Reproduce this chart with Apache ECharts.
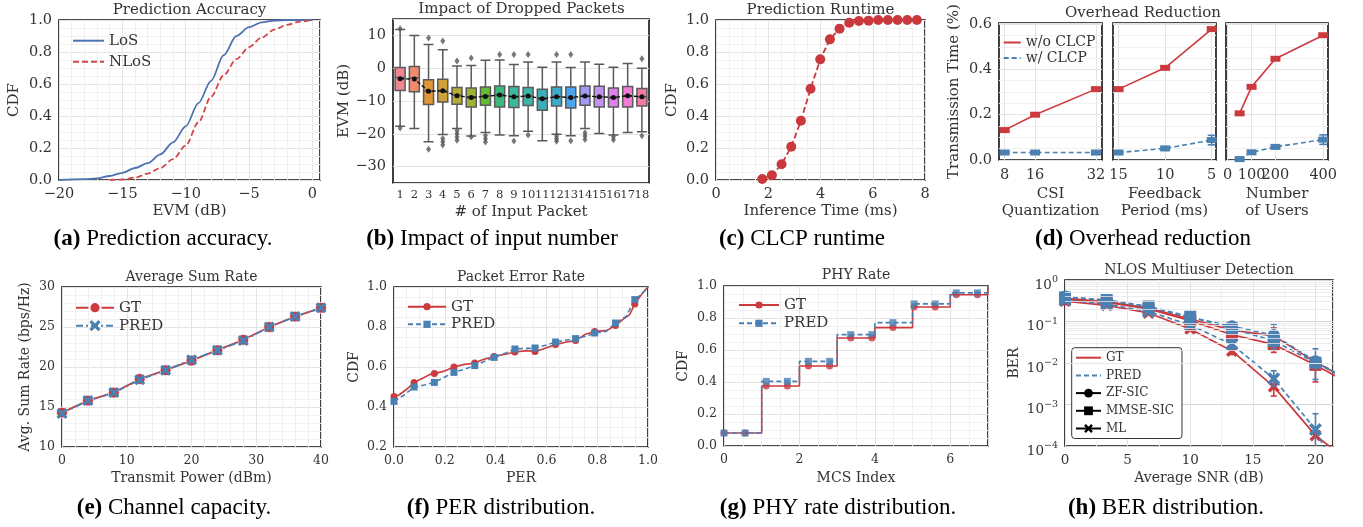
<!DOCTYPE html>
<html><head><meta charset="utf-8">
<script src="https://cdn.jsdelivr.net/npm/echarts@6/dist/echarts.min.js"></script>
<style>html,body{margin:0;padding:0;background:#fff}#c{width:1363px;height:527px}</style>
</head><body><div id="c"></div>
<script>
// ---------------- DATA ----------------
// (a) Prediction accuracy
const aLosX  = [-20,-18,-17,-16,-15,-14,-13,-12,-11,-10,-9,-8,-7,-6,-5,-4,-3,-2,-1,0];
const aLosY  = [0,0.005,0.01,0.025,0.045,0.075,0.105,0.16,0.235,0.335,0.48,0.62,0.78,0.90,0.955,0.985,0.997,1,1,1];
const aNlosX = [-16,-15,-14,-13,-12,-11,-10,-9,-8,-7,-6,-5,-4,-3,-2,-1,0];
const aNlosY = [0,0.003,0.015,0.04,0.075,0.13,0.215,0.36,0.52,0.655,0.755,0.83,0.89,0.94,0.97,0.99,1];
// (b) Impact of dropped packets: [min, Q1, median, Q3, max]
const bCats = ['1','2','3','4','5','6','7','8','9','10','11','12','13','14','15','16','17','18'];
const bBoxes = [
 [-17.7,-6.8,-2.8,0.2,11.8],[-18.4,-7.2,-2.9,0.5,10.0],[-22.4,-11.1,-7.0,-3.5,7.2],
 [-20.2,-10.3,-6.8,-3.4,5.6],[-18.4,-11.0,-8.2,-5.9,0.7],[-20.7,-11.8,-9.0,-6.0,0.8],
 [-19.6,-11.3,-8.4,-5.7,2.4],[-20.4,-11.8,-8.0,-5.4,2.5],[-20.6,-12.0,-8.7,-5.6,1.1],
 [-19.2,-11.4,-8.5,-5.9,1.9],[-22.1,-12.8,-9.5,-6.4,0.3],[-20.1,-11.5,-8.7,-5.7,1.9],
 [-20.6,-12.1,-9.0,-5.7,0.2],[-18.4,-11.3,-8.5,-5.4,1.9],[-19.9,-11.8,-8.7,-5.5,1.2],
 [-20.4,-11.8,-9.0,-6.0,0.3],[-19.6,-11.8,-8.4,-5.6,1.4],[-19.4,-11.5,-8.7,-6.2,0.0]];
const bMeans = [-3.2,-3.3,-7.0,-6.9,-8.4,-8.9,-8.6,-8.2,-8.7,-8.5,-9.3,-8.7,-8.9,-8.5,-8.7,-8.9,-8.4,-8.7];
const bFliers = [[12.0,-18.2],[],[9.2,-24.7],[8.3,-21.4,-22.4,-23.4],[2.2,-19.0,-20.0,-21.0,-22.0],
 [3.1,-20.9],[-20.5,-21.5,-22.5],[4.2],[4.2,-22.2],[4.2,-20.4],[],[4.2,-20.7,-21.5,-22.3],
 [4.2,-22.1],[-19.7,-20.7,-21.7],[],[-20.9,-21.8],[],[2.9,-20.6]];
const bColors = ['#f08690','#f08a6c','#e29534','#cfa136','#b6ac36','#9db437','#62bd35','#3cba7e','#3bb89d',
 '#3bb5a8','#3cafba','#3babcd','#4aa5ee','#9f9bf4','#c391ef','#e07fee','#f47bd6','#f27aa6'];
// (c) Prediction runtime
const cX = [1.77,2.14,2.51,2.88,3.25,3.62,3.99,4.36,4.73,5.10,5.47,5.84,6.21,6.58,6.95,7.32,7.69];
const cY = [0.006,0.03,0.098,0.208,0.37,0.57,0.754,0.879,0.946,0.983,0.994,0.996,1,1,1,1,1];
// (d) Overhead reduction
const d1X = [8,16,32],        d1Wo = [0.132,0.2,0.313],         d1W = [0.033,0.033,0.033],       d1Err = [0.004,0.004,0.004];
const d2X = [15,10,5],        d2Wo = [0.313,0.407,0.578],       d2W = [0.033,0.051,0.088],       d2Err = [0.004,0.008,0.021];
const d3X = [50,100,200,400], d3Wo = [0.206,0.323,0.447,0.551], d3W = [0.004,0.034,0.058,0.09], d3Err = [0.003,0.006,0.008,0.021];
const d1Ticks = [8,16,32], d2Ticks = [5,10,15], d3Ticks = [0,100,200,400];
// (e) Average sum rate
const eX    = [0,4,8,12,16,20,24,28,32,36,40];
const eGT   = [14.3,15.8,16.8,18.5,19.6,20.8,22.1,23.4,25.0,26.3,27.4];
const ePRED = [14.2,15.8,16.8,18.4,19.6,20.9,22.1,23.3,25.0,26.3,27.4];
// (f) Packet error rate CDF
const fGtX  = [0,0.02,0.056,0.079,0.115,0.14,0.159,0.194,0.213,0.236,0.273,0.318,0.351,0.394,0.443,0.476,0.522,0.555,0.587,0.636,0.679,0.715,0.751,0.79,0.836,0.872,0.90,0.928,0.948,0.974,1.0];
const fGtY  = [0.453,0.46,0.495,0.523,0.545,0.562,0.567,0.578,0.587,0.6,0.612,0.62,0.637,0.653,0.665,0.675,0.682,0.678,0.69,0.712,0.725,0.732,0.762,0.778,0.782,0.807,0.837,0.862,0.915,0.962,1.0];
const fPrX  = [0,0.04,0.079,0.12,0.159,0.2,0.236,0.28,0.318,0.36,0.394,0.44,0.476,0.52,0.555,0.6,0.636,0.68,0.715,0.76,0.79,0.836,0.872,0.914,0.948,0.975,1.0];
const fPrY  = [0.428,0.46,0.5,0.51,0.523,0.55,0.573,0.59,0.607,0.63,0.648,0.67,0.69,0.693,0.695,0.71,0.725,0.735,0.742,0.755,0.77,0.778,0.82,0.853,0.937,0.965,1.0];
const fMarkX = [0,0.079,0.159,0.236,0.318,0.394,0.476,0.555,0.636,0.715,0.79,0.872,0.948];
// (g) PHY rate CDF (step)
const gX     = [0,1,2,3,4,5,6,7];
const gGT    = [0.081,0.375,0.5,0.675,0.74,0.869,0.945,1.0];
const gPRED  = [0.081,0.404,0.529,0.696,0.771,0.888,0.957,1.0];
const gMarkX = [0,0.56,1.12,1.68,2.24,2.8,3.36,3.92,4.48,5.04,5.6,6.16,6.72];
// (h) NLOS multiuser detection BER
const hX      = [0,3.33,6.67,10,13.33,16.67,20,23.33];
const hGtZF   = [0.36,0.30,0.21,0.115,0.062,0.045,0.0105,0.003];
const hGtMMSE = [0.34,0.29,0.20,0.105,0.048,0.028,0.009,0.0025];
const hGtML   = [0.31,0.245,0.16,0.066,0.0195,0.0027,0.00018,0.00003];
const hPrZF   = [0.40,0.32,0.225,0.125,0.077,0.047,0.011,0.003];
const hPrMMSE = [0.38,0.33,0.23,0.13,0.068,0.034,0.0102,0.003];
const hPrML   = [0.33,0.26,0.175,0.082,0.028,0.0042,0.00025,0.000002];
const hErrGt  = [[13.33,0.016,0.024],[13.33,0.044,0.07],[16.67,0.0016,0.004],[16.67,0.018,0.07],[20,0.0035,0.014]];
const hErrPr  = [[13.33,0.022,0.036],[13.33,0.055,0.09],[16.67,0.0028,0.0065],[16.67,0.022,0.085],[20,0.004,0.022],[20,0.00005,0.0006]];
const hMinor  = [2,3,4,5,6,7,8,9];

// ---------------- HELPERS ----------------
const SERIF = "'DejaVu Serif', serif";
const CAPF = "'Liberation Serif', serif";
const RED = '#cc3a3e', BLUE = '#4a80b2', TXT = '#333';
const XPATH = 'path://M2,0L5,3L8,0L10,2L7,5L10,8L8,10L5,7L2,10L0,8L3,5L0,2Z';
const zip = (xs, ys) => xs.map((x, i) => [x, ys[i]]);
const near = (v, s) => Math.abs(v / s - Math.round(v / s)) < 1e-6;
const num = (v, d) => (v < -1e-9 ? '\u2212' : '') + Math.abs(v).toFixed(d);
const tf = (s, d) => v => near(v, s) ? num(v, d) : '';
const stepAt = (xs, ys, x) => { let k = 0; xs.forEach((v, i) => { if (v <= x + 1e-9) k = i; }); return ys[k]; };

const grids = [
  {left:59,  top:20,  width:261, height:160}, // a
  {left:393, top:19,  width:256, height:164}, // b
  {left:716, top:20,  width:209, height:160}, // c
  {left:999, top:23,  width:103, height:137}, // d1
  {left:1113,top:23,  width:103, height:137}, // d2
  {left:1226,top:23,  width:102, height:137}, // d3
  {left:62,  top:287, width:259, height:160}, // e
  {left:394, top:287, width:254, height:160}, // f
  {left:724, top:286, width:264, height:160}, // g
  {left:1065,top:280, width:268, height:166}  // h
].map(g => Object.assign(g, {show:true, borderColor:'#111', borderWidth:1.6, backgroundColor:'#fff', containLabel:false}));

function mkAxis(gi, p) {
  const ax = {
    type: p.type || 'value', gridIndex: gi,
    axisLine: {show:false}, axisTick: {show:false},
    splitLine: {show: p.split !== false, lineStyle: {color:'#e3e3e3', width:1}},
    axisLabel: {show: p.labels !== false, fontFamily:SERIF, fontSize:p.fs || 14.5, color:TXT, margin:p.margin || 7},
    name: p.name || '', nameLocation:'middle', nameGap: p.nameGap || 25,
    nameTextStyle: {fontFamily:SERIF, fontSize:p.nameFs || 15, color:TXT}
  };
  if (p.min != null) ax.min = p.min;
  if (p.max != null) ax.max = p.max;
  if (p.interval != null) ax.interval = p.interval;
  if (p.splitNumber != null) ax.splitNumber = p.splitNumber;
  if (p.fmt) ax.axisLabel.formatter = p.fmt;
  if (p.labelInterval != null) ax.axisLabel.interval = p.labelInterval;
  if (p.nameLH) ax.nameTextStyle.lineHeight = p.nameLH;
  if (p.minor) { ax.minorTick = {show:false, splitNumber:p.minor}; ax.minorSplitLine = {show:true, lineStyle:{color:'#f1f1f1', width:1}}; }
  if (p.custom) { ax.axisTick.customValues = p.custom; ax.axisLabel.customValues = p.custom; }
  if (p.extra) Object.assign(ax, p.extra);
  return ax;
}

const xAxes = [
  mkAxis(0, {min:-20, max:0.6, interval:5, fmt:tf(5,0), name:'EVM (dB)', nameGap:24, minor:5}),
  mkAxis(1, {type:'category', split:false, fs:11.5, margin:6, labelInterval:0, name:'# of Input Packet', nameGap:22,
             extra:{data:bCats, boundaryGap:true}}),
  mkAxis(2, {min:0, max:8, interval:2, fmt:tf(2,0), name:'Inference Time (ms)', nameGap:24, minor:4}),
  mkAxis(3, {min:6.5, max:33.6, custom:d1Ticks, margin:8, name:'CSI\nQuantization', nameGap:26, nameLH:17}),
  mkAxis(4, {min:4.54, max:15.6, custom:d2Ticks, margin:8, name:'Feedback\nPeriod (ms)', nameGap:26, nameLH:17, extra:{inverse:true}}),
  mkAxis(5, {min:-7, max:420, custom:d3Ticks, margin:8, name:'Number\nof Users', nameGap:26, nameLH:17}),
  mkAxis(6, {min:0, max:40, interval:10, fmt:tf(10,0), fs:12.5, name:'Transmit Power (dBm)', nameFs:14, nameGap:24, minor:5}),
  mkAxis(7, {min:0, max:1, interval:0.2, fmt:tf(0.2,1), fs:12.5, name:'PER', nameFs:14, nameGap:24, minor:4}),
  mkAxis(8, {min:0, max:7, interval:2, fmt:tf(2,0), fs:12.5, name:'MCS Index', nameFs:14, nameGap:25, minor:4}),
  mkAxis(9, {min:0, max:21.4, interval:5, fmt:tf(5,0), fs:13.5, name:'Average SNR (dB)', nameFs:14, nameGap:25, minor:2})
];
const yAxes = [
  mkAxis(0, {min:0, max:1, interval:0.2, fmt:tf(0.2,1), name:'CDF', nameGap:37, minor:4}),
  mkAxis(1, {min:-35, max:15, splitNumber:5, fmt:tf(10,0), name:'EVM (dB)', nameGap:40}),
  mkAxis(2, {min:0, max:1, interval:0.2, fmt:tf(0.2,1), name:'CDF', nameGap:36, minor:4}),
  mkAxis(3, {min:0, max:0.605, interval:0.2, fmt:tf(0.2,1), name:'Transmission Time (%)', nameGap:37, minor:4}),
  mkAxis(4, {min:0, max:0.605, interval:0.2, labels:false, minor:4}),
  mkAxis(5, {min:0, max:0.605, interval:0.2, labels:false, minor:4}),
  mkAxis(6, {min:10, max:30, interval:5, fmt:tf(5,0), fs:12.5, name:'Avg. Sum Rate (bps/Hz)', nameFs:14, nameGap:30, minor:5}),
  mkAxis(7, {min:0.2, max:1, interval:0.2, fmt:tf(0.2,1), fs:12.5, name:'CDF', nameFs:14, nameGap:33, minor:4}),
  mkAxis(8, {min:0, max:1, interval:0.2, fmt:tf(0.2,1), fs:12.5, name:'CDF', nameFs:14, nameGap:34, minor:4}),
  mkAxis(9, {type:'log', min:0.0001, max:1, name:'BER', nameFs:14, nameGap:44, extra:{logBase:10}})
];
yAxes[9].splitLine.lineStyle.color = '#d4d4d4';
yAxes[9].axisLabel.formatter = v => { const e = Math.round(Math.log10(v)); return '{b|10}{s|' + (e < 0 ? '\u2212' : '') + Math.abs(e) + '}'; };
yAxes[9].axisLabel.rich = {
  b: {fontFamily:SERIF, fontSize:13.5, color:TXT, lineHeight:24, verticalAlign:'bottom'},
  s: {fontFamily:SERIF, fontSize:9.5, color:TXT, lineHeight:24, verticalAlign:'middle'}
};

function errBars(color, cap) {
  return function (params, api) {
    const x = api.value(0), lo = api.value(1), hi = api.value(2);
    const a = api.coord([x, lo]), b = api.coord([x, hi]);
    const st = {stroke: color, lineWidth: 1.6, fill: 'none'};
    return {type:'group', children:[
      {type:'line', shape:{x1:a[0], y1:a[1], x2:b[0], y2:b[1]}, style:st},
      {type:'line', shape:{x1:a[0]-cap, y1:a[1], x2:a[0]+cap, y2:a[1]}, style:st},
      {type:'line', shape:{x1:b[0]-cap, y1:b[1], x2:b[0]+cap, y2:b[1]}, style:st}
    ]};
  };
}
const ax = i => ({xAxisIndex:i, yAxisIndex:i});
const series = [];

// (a)
series.push(Object.assign({type:'line', name:'LoS', data:zip(aLosX, aLosY), symbol:'none', smooth:0.3, smoothMonotone:'x',
  lineStyle:{color:'#4c72b0', width:1.8}, itemStyle:{color:'#4c72b0'}}, ax(0)));
series.push(Object.assign({type:'line', name:'NLoS', data:zip(aNlosX, aNlosY), symbol:'none', smooth:0.3, smoothMonotone:'x',
  lineStyle:{color:'#d2474b', width:1.8, type:[6,3]}, itemStyle:{color:'#d2474b'}}, ax(0)));

// (b)
series.push(Object.assign({type:'boxplot', name:'box', boxWidth:[10,11],
  data: bBoxes.map((v, i) => ({value:v, itemStyle:{color:bColors[i]}})),
  itemStyle:{borderColor:'#5a5a5a', borderWidth:1.5}}, ax(1)));
const bFl = [];
bFliers.forEach((arr, i) => arr.forEach(v => bFl.push([i, v])));
series.push(Object.assign({type:'scatter', name:'fl', data:bFl, symbol:'diamond', symbolSize:[5,7], itemStyle:{color:'#555'}, z:3}, ax(1)));
series.push(Object.assign({type:'line', name:'mean', data:bMeans, symbol:'circle', symbolSize:5,
  lineStyle:{color:'#111', width:1.4, type:[4,2]}, itemStyle:{color:'#111'}, z:4}, ax(1)));

// (c)
series.push(Object.assign({type:'line', name:'rt', data:zip(cX, cY), symbol:'circle', symbolSize:10,
  lineStyle:{color:'#c9383c', width:1.8, type:[6,3]}, itemStyle:{color:'#c9383c'}}, ax(2)));

// (d)
[[d1X,d1Wo,d1W,d1Err,3],[d2X,d2Wo,d2W,d2Err,4],[d3X,d3Wo,d3W,d3Err,5]].forEach(([xs, wo, w, er, gi]) => {
  series.push(Object.assign({type:'line', name:'wo'+gi, data:zip(xs, wo), symbol:'rect', symbolSize:[10,6],
    lineStyle:{color:RED, width:1.6}, itemStyle:{color:RED}}, ax(gi)));
  series.push(Object.assign({type:'custom', name:'err'+gi, renderItem:errBars(BLUE, 4), data:xs.map((x, i) => [x, w[i]-er[i], w[i]+er[i]]), z:3}, ax(gi)));
  series.push(Object.assign({type:'line', name:'w'+gi, data:zip(xs, w), symbol:'rect', symbolSize:[10,6],
    lineStyle:{color:BLUE, width:1.6, type:[5,3]}, itemStyle:{color:BLUE}, z:4}, ax(gi)));
});
series.push(Object.assign({type:'line', name:'w/o CLCP', data:[], symbol:'none', lineStyle:{color:RED, width:1.6}, itemStyle:{color:RED}}, ax(3)));
series.push(Object.assign({type:'line', name:'w/ CLCP', data:[], symbol:'none', lineStyle:{color:BLUE, width:1.6, type:[5,3]}, itemStyle:{color:BLUE}}, ax(3)));

// (e)
series.push(Object.assign({type:'line', name:'GT', data:zip(eX, eGT), symbol:'circle', symbolSize:11,
  lineStyle:{color:RED, width:1.8}, itemStyle:{color:RED, borderColor:'#fff', borderWidth:0.8}}, ax(6)));
series.push(Object.assign({type:'line', name:'PRED', data:zip(eX, ePRED), symbol:XPATH, symbolSize:11,
  lineStyle:{color:BLUE, width:1.8, type:[7,3,2,3]}, itemStyle:{color:BLUE}}, ax(6)));

// (f)
const isMark = x => fMarkX.some(m => Math.abs(m - x) < 1e-9);
series.push(Object.assign({type:'line', name:'GT ', showAllSymbol:true, symbol:'circle', symbolSize:7,
  data: fGtX.map((x, i) => ({value:[x, fGtY[i]], symbol: isMark(x) ? 'circle' : 'none'})),
  lineStyle:{color:RED, width:1.6}, itemStyle:{color:RED}}, ax(7)));
series.push(Object.assign({type:'line', name:'PRED ', showAllSymbol:true, symbol:'rect', symbolSize:7,
  data: fPrX.map((x, i) => ({value:[x, fPrY[i]], symbol: isMark(x) ? 'rect' : 'none'})),
  lineStyle:{color:BLUE, width:1.6, type:[5,3]}, itemStyle:{color:BLUE}}, ax(7)));

// (g)
series.push(Object.assign({type:'line', name:'gGT', data:zip(gX, gGT), step:'end', symbol:'none', lineStyle:{color:RED, width:1.6}}, ax(8)));
series.push(Object.assign({type:'line', name:'gPR', data:zip(gX, gPRED), step:'end', symbol:'none', lineStyle:{color:BLUE, width:1.6, type:[5,3]}}, ax(8)));
series.push(Object.assign({type:'scatter', name:'gGTm', data:gMarkX.map(x => [x, stepAt(gX, gGT, x)]), symbol:'circle', symbolSize:7, itemStyle:{color:RED}}, ax(8)));
series.push(Object.assign({type:'scatter', name:'gPRm', data:gMarkX.map(x => [x, stepAt(gX, gPRED, x)]), symbol:'rect', symbolSize:7, itemStyle:{color:BLUE}}, ax(8)));
series.push(Object.assign({type:'line', name:'GT  ', data:[], symbol:'circle', symbolSize:7, lineStyle:{color:RED, width:1.6}, itemStyle:{color:RED}}, ax(8)));
series.push(Object.assign({type:'line', name:'PRED  ', data:[], symbol:'rect', symbolSize:7, lineStyle:{color:BLUE, width:1.6, type:[5,3]}, itemStyle:{color:BLUE}}, ax(8)));

// (h)
const minorVals = [];
[-4,-3,-2,-1].forEach(e => hMinor.forEach(m => minorVals.push(m * Math.pow(10, e))));
series.push(Object.assign({type:'line', name:'hgrid', data:[], symbol:'none', z:1,
  markLine:{silent:true, symbol:'none', label:{show:false}, animation:false,
    lineStyle:{color:'#e6e6e6', width:0.8, type:'solid'}, data:minorVals.map(v => ({yAxis:v}))}}, ax(9)));
const hSeries = [
  ['hGtZF', hGtZF, RED, 'solid', 'circle', 12], ['hGtMM', hGtMMSE, RED, 'solid', 'rect', 12], ['hGtML', hGtML, RED, 'solid', XPATH, 12],
  ['hPrZF', hPrZF, BLUE, [5,3], 'circle', 12], ['hPrMM', hPrMMSE, BLUE, [5,3], 'rect', 12], ['hPrML', hPrML, BLUE, [5,3], XPATH, 13]
];
hSeries.forEach(([nm, ys, col, tp, sym, sz], k) => {
  if (k === 3) series.push(Object.assign({type:'custom', name:'hErrGt', renderItem:errBars(RED, 3), data:hErrGt, z:2, clip:true}, ax(9)));
  series.push(Object.assign({type:'line', name:nm, data:zip(hX, ys), symbol:sym, symbolSize:sz, clip:true,
    lineStyle:{color:col, width:1.7, type:tp}, itemStyle:{color:col}, z: k < 3 ? 2 : 3}, ax(9)));
});
series.push(Object.assign({type:'custom', name:'hErrPr', renderItem:errBars(BLUE, 3), data:hErrPr, z:3, clip:true}, ax(9)));
series.push(Object.assign({type:'line', name:'GT   ', data:[], symbol:'none', lineStyle:{color:RED, width:1.7}, itemStyle:{color:RED}}, ax(9)));
series.push(Object.assign({type:'line', name:'PRED   ', data:[], symbol:'none', lineStyle:{color:BLUE, width:1.7, type:[5,3]}, itemStyle:{color:BLUE}}, ax(9)));
series.push(Object.assign({type:'line', name:'ZF-SIC', data:[], symbol:'circle', symbolSize:9, lineStyle:{color:'#000', width:1.7}, itemStyle:{color:'#000'}}, ax(9)));
series.push(Object.assign({type:'line', name:'MMSE-SIC', data:[], symbol:'rect', symbolSize:9, lineStyle:{color:'#000', width:1.7}, itemStyle:{color:'#000'}}, ax(9)));
series.push(Object.assign({type:'line', name:'ML', data:[], symbol:XPATH, symbolSize:10, lineStyle:{color:'#000', width:1.7}, itemStyle:{color:'#000'}}, ax(9)));

// ---------------- LEGENDS ----------------
const lineOnly = n => ({name:n, itemStyle:{opacity:0}});
function mkLegend(names, left, top, o) {
  return Object.assign({orient:'vertical', left:left, top:top, data:names, selectedMode:false,
    formatter: n => n.trim(), itemWidth:o.iw, itemHeight:o.ih, itemGap:o.gap, padding:o.pad || 0,
    textStyle:{fontFamily:SERIF, fontSize:o.fs, color:TXT, lineHeight:o.lh}}, o.extra || {});
}
const legends = [
  mkLegend([lineOnly('LoS'), lineOnly('NLoS')], 72, 32.7, {iw:31, ih:14, gap:5, fs:15, lh:16}),
  mkLegend([lineOnly('w/o CLCP'), lineOnly('w/ CLCP')], 1002.7, 35, {iw:17, ih:10, gap:0.6, fs:14, lh:15}),
  mkLegend(['GT','PRED'], 75, 299.7, {iw:38, ih:14, gap:2, fs:15, lh:16}),
  mkLegend(['GT ','PRED '], 407, 298.7, {iw:38, ih:9, gap:1.6, fs:15, lh:16}),
  mkLegend(['GT  ','PRED  '], 738, 297, {iw:40, ih:9, gap:2.3, fs:15, lh:16}),
  mkLegend([lineOnly('GT   '), lineOnly('PRED   '),'ZF-SIC','MMSE-SIC','ML'], 1071.7, 347.7, {iw:25, ih:11, gap:3.7, fs:12, lh:14, pad:[3,8,3,3.3],
    extra:{backgroundColor:'#fff', borderColor:'#333', borderWidth:1, borderRadius:3}})
];

// ---------------- TEXT ----------------
const titles = [
  ['Prediction Accuracy', 189.5, 10, 15], ['Impact of Dropped Packets', 521.5, 9.5, 15],
  ['Prediction Runtime', 820.5, 10, 15], ['Overhead Reduction', 1143, 13, 15],
  ['Average Sum Rate', 191.5, 277.5, 14], ['Packet Error Rate', 521, 277.5, 14],
  ['PHY Rate', 856, 275.5, 14], ['NLOS Multiuser Detection', 1199, 270.5, 14]
];
const captions = [
  ['(a)', ' Prediction accuracy.', 163, 239], ['(b)', ' Impact of input number', 492, 239],
  ['(c)', ' CLCP runtime', 802, 239], ['(d)', ' Overhead reduction', 1143, 239],
  ['(e)', ' Channel capacity.', 174, 508], ['(f)', ' PER distribution.', 501, 508],
  ['(g)', ' PHY rate distribution.', 838, 508], ['(h)', ' BER distribution.', 1166, 508]
];
const graphics = [];
titles.forEach(([t, x, y, fs]) => graphics.push({type:'text', x:x, y:y, z:100,
  style:{text:t, fontFamily:SERIF, fontSize:fs, fill:TXT, align:'center', verticalAlign:'middle'}}));
captions.forEach(([b, t, x, y]) => graphics.push({type:'text', x:x, y:y, z:100,
  style:{text:'{b|' + b + '}' + t, fontFamily:CAPF, fontSize:23, fill:'#000', align:'center', verticalAlign:'middle',
    rich:{b:{fontFamily:CAPF, fontSize:23, fontWeight:'bold', fill:'#000'}}}}));

const chart = echarts.init(document.getElementById('c'), null, {renderer:'canvas', width:1363, height:527});
chart.setOption({
  animation:false, backgroundColor:'#fff',
  grid:grids, xAxis:xAxes, yAxis:yAxes, series:series, legend:legends, graphic:graphics
});
</script></body></html>
